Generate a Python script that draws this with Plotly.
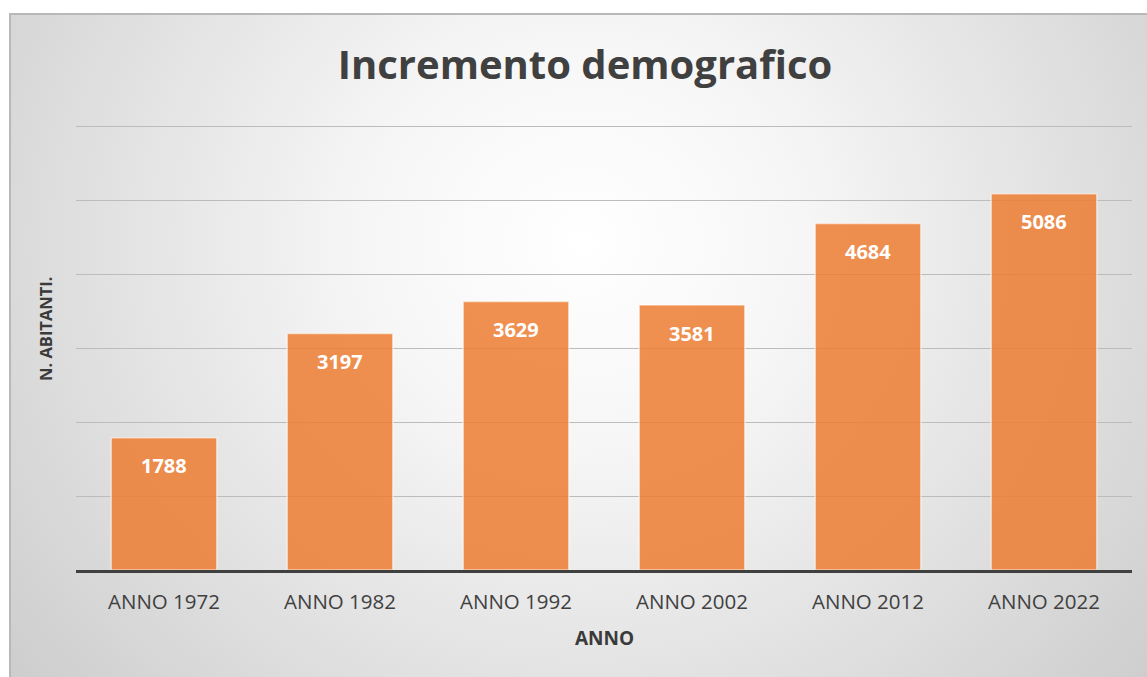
import plotly.graph_objects as go
import urllib.parse

categories = ["ANNO 1972", "ANNO 1982", "ANNO 1992", "ANNO 2002", "ANNO 2012", "ANNO 2022"]
abitanti = [1788, 3197, 3629, 3581, 4684, 5086]

W, H = 1147, 677
L, R, T, B = 76, 15, 122, 107
pw, ph = W - L - R, H - T - B
ZERO_PX = H - B          # pixel row of y=0
PX_PER_K = 74.0          # pixels per 1000 inhabitants
ymax = (ZERO_PX - T) / PX_PER_K * 1000

svg = (
    "<svg xmlns='http://www.w3.org/2000/svg' width='1160' height='680' viewBox='0 0 1160 680' preserveAspectRatio='none'>"
    "<defs><radialGradient id='g' cx='0.49' cy='0.33' r='0.75' gradientTransform='translate(0.49,0.33) scale(1,1.6) translate(-0.49,-0.33)'>"
    "<stop offset='0' stop-color='#ffffff'/><stop offset='0.25' stop-color='#f6f6f6'/>"
    "<stop offset='1' stop-color='#c2c2c2'/></radialGradient></defs>"
    "<rect x='1' y='1' width='1170' height='690' fill='url(#g)' stroke='#b8b8b8' stroke-width='2'/></svg>"
)
src = "data:image/svg+xml;charset=utf-8," + urllib.parse.quote(svg)

x0, y0 = 9, 13
img_w, img_h = 1160, 680


def px_x(px):
    return (px - L) / pw


def px_y(py):
    return (ZERO_PX - py) / ph


fig = go.Figure()
fig.add_trace(go.Bar(
    x=categories, y=abitanti,
    marker=dict(color="rgba(237,125,49,0.85)", line=dict(color="rgba(255,255,255,0.55)", width=1.5)),
    hoverinfo="skip",
))

for c, v in zip(categories, abitanti):
    fig.add_annotation(x=c, y=v, text=f"<b>{v}</b>", showarrow=False, yanchor="middle",
                       yshift=-28, font=dict(family="Open Sans", size=20, color="white"))

fig.add_annotation(xref="paper", yref="paper", x=px_x(45), y=px_y(329), text="<b>N. ABITANTI.</b>",
                   textangle=-90, showarrow=False, xanchor="center", yanchor="middle",
                   font=dict(family="Open Sans", size=16.5, color="#3a3a3a"))
fig.add_annotation(xref="paper", yref="paper", x=px_x(604), y=px_y(638), text="<b>ANNO</b>",
                   showarrow=False, xanchor="center", yanchor="middle",
                   font=dict(family="Open Sans", size=19, color="#3a3a3a"))

fig.update_layout(
    width=W, height=H,
    margin=dict(l=L, r=R, t=T, b=B),
    paper_bgcolor="white", plot_bgcolor="rgba(0,0,0,0)",
    bargap=0.4,
    showlegend=False,
    title=dict(text="<b>Incremento demografico</b>", x=585 / W, xanchor="center",
               y=1 - 65 / H, yanchor="middle",
               font=dict(family="Open Sans", size=40, color="#404040")),
    images=[dict(source=src, xref="paper", yref="paper",
                 x=px_x(x0), y=px_y(y0),
                 sizex=img_w / pw, sizey=img_h / ph, xanchor="left", yanchor="top",
                 sizing="stretch", layer="below")],
    xaxis=dict(showline=True, linecolor="#404040", linewidth=3, ticks="",
               ticklabelstandoff=11,
               tickfont=dict(family="Open Sans", size=20.5, color="#404040")),
    yaxis=dict(range=[0, ymax], dtick=1000, showticklabels=False, showgrid=True,
               gridcolor="#bcbcbc", gridwidth=1, zeroline=False),
)

fig.write_html("out.html", config={"displayModeBar": False},
               post_script="document.body.style.margin='0';")
